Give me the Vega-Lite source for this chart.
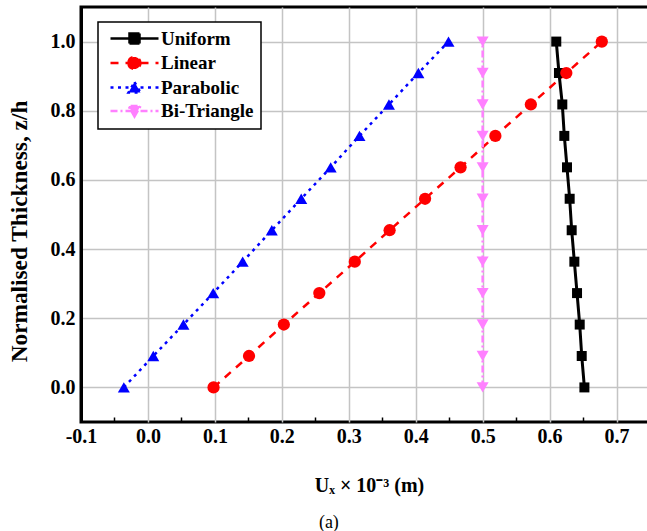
{
  "$schema": "https://vega.github.io/schema/vega-lite/v6.json",
  "width": 569,
  "height": 415,
  "autosize": "none",
  "padding": {"left": 81, "top": 7, "right": 0, "bottom": 109},
  "background": "white",
  "title": {"text": "(a)", "orient": "bottom", "anchor": "middle", "frame": "bounds", "font": "Liberation Serif", "fontSize": 18, "fontWeight": "normal", "color": "black", "offset": 19},
  "data": {"values": [
    {"series": "Uniform", "x": 0.652, "y": 0.0},
    {"series": "Uniform", "x": 0.648, "y": 0.0909},
    {"series": "Uniform", "x": 0.645, "y": 0.1818},
    {"series": "Uniform", "x": 0.641, "y": 0.2727},
    {"series": "Uniform", "x": 0.637, "y": 0.3636},
    {"series": "Uniform", "x": 0.633, "y": 0.4545},
    {"series": "Uniform", "x": 0.630, "y": 0.5455},
    {"series": "Uniform", "x": 0.626, "y": 0.6364},
    {"series": "Uniform", "x": 0.622, "y": 0.7273},
    {"series": "Uniform", "x": 0.619, "y": 0.8182},
    {"series": "Uniform", "x": 0.614, "y": 0.9091},
    {"series": "Uniform", "x": 0.610, "y": 1.0},
    {"series": "Linear", "x": 0.098, "y": 0.0},
    {"series": "Linear", "x": 0.151, "y": 0.0909},
    {"series": "Linear", "x": 0.203, "y": 0.1818},
    {"series": "Linear", "x": 0.256, "y": 0.2727},
    {"series": "Linear", "x": 0.309, "y": 0.3636},
    {"series": "Linear", "x": 0.361, "y": 0.4545},
    {"series": "Linear", "x": 0.414, "y": 0.5455},
    {"series": "Linear", "x": 0.467, "y": 0.6364},
    {"series": "Linear", "x": 0.519, "y": 0.7273},
    {"series": "Linear", "x": 0.572, "y": 0.8182},
    {"series": "Linear", "x": 0.625, "y": 0.9091},
    {"series": "Linear", "x": 0.678, "y": 1.0},
    {"series": "Parabolic", "x": -0.036, "y": 0.0},
    {"series": "Parabolic", "x": 0.008, "y": 0.0909},
    {"series": "Parabolic", "x": 0.053, "y": 0.1818},
    {"series": "Parabolic", "x": 0.0975, "y": 0.2727},
    {"series": "Parabolic", "x": 0.1415, "y": 0.3636},
    {"series": "Parabolic", "x": 0.185, "y": 0.4545},
    {"series": "Parabolic", "x": 0.229, "y": 0.5455},
    {"series": "Parabolic", "x": 0.273, "y": 0.6364},
    {"series": "Parabolic", "x": 0.316, "y": 0.7273},
    {"series": "Parabolic", "x": 0.360, "y": 0.8182},
    {"series": "Parabolic", "x": 0.404, "y": 0.9091},
    {"series": "Parabolic", "x": 0.449, "y": 1.0},
    {"series": "Bi-Triangle", "x": 0.5, "y": 0.0},
    {"series": "Bi-Triangle", "x": 0.5, "y": 0.0909},
    {"series": "Bi-Triangle", "x": 0.5, "y": 0.1818},
    {"series": "Bi-Triangle", "x": 0.5, "y": 0.2727},
    {"series": "Bi-Triangle", "x": 0.5, "y": 0.3636},
    {"series": "Bi-Triangle", "x": 0.5, "y": 0.4545},
    {"series": "Bi-Triangle", "x": 0.5, "y": 0.5455},
    {"series": "Bi-Triangle", "x": 0.5, "y": 0.6364},
    {"series": "Bi-Triangle", "x": 0.5, "y": 0.7273},
    {"series": "Bi-Triangle", "x": 0.5, "y": 0.8182},
    {"series": "Bi-Triangle", "x": 0.5, "y": 0.9091},
    {"series": "Bi-Triangle", "x": 0.5, "y": 1.0}
  ]},
  "encoding": {
    "x": {
      "field": "x", "type": "quantitative",
      "scale": {"domain": [-0.1, 0.75], "nice": false, "zero": false},
      "axis": {
        "title": "Uₓ × 10⁻³ (m)",
        "titleX": 288,
        "titleFontSize": 20,
        "values": [-0.1, -0.05, 0, 0.05, 0.1, 0.15, 0.2, 0.25, 0.3, 0.35, 0.4, 0.45, 0.5, 0.55, 0.6, 0.65, 0.7, 0.75],
        "labelExpr": "abs(round(datum.value*20)) % 2 == 0 ? replace(format(datum.value, '.1f'), '\u2212', '-') : ''",
        "gridOpacity": {"condition": {"test": "abs(round(datum.value*20)) % 2 == 0 && datum.value > -0.09", "value": 1}, "value": 0},
        "tickOpacity": {"condition": {"test": "abs(round(datum.value*20)) % 2 == 1", "value": 1}, "value": 0},
        "offset": -5,
        "domain": false,
        "tickSize": 5,
        "labelPadding": 4,
        "titlePadding": 29,
        "labelFlush": false
      }
    },
    "y": {
      "field": "y", "type": "quantitative",
      "scale": {"domain": [-0.1, 1.1], "nice": false, "zero": false},
      "axis": {
        "title": "Normalised Thickness, z/h",
        "titleFontSize": 23.3,
        "titleY": 224,
        "values": [0, 0.2, 0.4, 0.6, 0.8, 1.0],
        "format": ".1f",
        "ticks": false,
        "labelPadding": 6,
        "titlePadding": 19
      }
    }
  },
  "layer": [
    {
      "transform": [{"filter": "datum.series == 'Uniform'"}],
      "mark": {"type": "line", "strokeWidth": 3, "color": "#000000"},
      "encoding": {"order": {"field": "y", "type": "quantitative"}}
    },
    {
      "transform": [{"filter": "datum.series == 'Linear'"}],
      "mark": {"type": "line", "strokeWidth": 2.5, "color": "#ff0000", "strokeDash": [8, 7]},
      "encoding": {"order": {"field": "y", "type": "quantitative"}}
    },
    {
      "transform": [{"filter": "datum.series == 'Parabolic'"}],
      "mark": {"type": "line", "strokeWidth": 2.5, "color": "#0000ff", "strokeDash": [3, 4.5]},
      "encoding": {"order": {"field": "y", "type": "quantitative"}}
    },
    {
      "transform": [{"filter": "datum.series == 'Bi-Triangle'"}],
      "mark": {"type": "line", "strokeWidth": 2.5, "color": "#ff80ff", "strokeDash": [7, 3, 2, 3]},
      "encoding": {"order": {"field": "y", "type": "quantitative"}}
    },
    {
      "transform": [{"filter": "datum.series == 'Uniform'"}],
      "mark": {"type": "point", "filled": true, "opacity": 1, "shape": "square", "size": 100, "color": "#000000"}
    },
    {
      "transform": [{"filter": "datum.series == 'Linear'"}],
      "mark": {"type": "point", "filled": true, "opacity": 1, "shape": "circle", "size": 150, "color": "#ff0000"}
    },
    {
      "transform": [{"filter": "datum.series == 'Parabolic'"}],
      "mark": {"type": "point", "filled": true, "opacity": 1, "shape": "triangle-up", "size": 144, "color": "#0000ff"}
    },
    {
      "transform": [{"filter": "datum.series == 'Bi-Triangle'"}],
      "mark": {"type": "point", "filled": true, "opacity": 1, "shape": "triangle-down", "size": 144, "color": "#ff80ff"}
    },
    {
      "transform": [{"filter": "datum.y > 5"}],
      "mark": {"type": "point", "filled": false, "opacity": 1},
      "encoding": {
        "color": {"field": "series", "type": "nominal", "scale": {"domain": ["Uniform", "Linear", "Parabolic", "Bi-Triangle"], "range": ["#000000", "#ff0000", "#0000ff", "#ff80ff"]}, "legend": {"title": null, "orient": "none", "legendX": 17, "legendY": 15}},
        "fill": {"field": "series", "type": "nominal", "scale": {"domain": ["Uniform", "Linear", "Parabolic", "Bi-Triangle"], "range": ["#000000", "#ff0000", "#0000ff", "#ff80ff"]}, "legend": {"title": null, "orient": "none", "legendX": 17, "legendY": 15}},
        "shape": {"field": "series", "type": "nominal", "scale": {"domain": ["Uniform", "Linear", "Parabolic", "Bi-Triangle"], "range": [
          "M-4.8,0H4.8M-1,-1H1V1H-1Z",
          "M-4.8,0H4.8M-1.2,0A1.2,1.2,0,1,0,1.2,0A1.2,1.2,0,1,0,-1.2,0Z",
          "M-4.8,0H4.8M0,-1.1L1.2,1L-1.2,1Z",
          "M-4.8,0H4.8M0,1.1L1.2,-1L-1.2,-1Z"
        ]}, "legend": {"title": null, "orient": "none", "legendX": 17, "legendY": 15}},
        "strokeDash": {"field": "series", "type": "nominal", "scale": {"domain": ["Uniform", "Linear", "Parabolic", "Bi-Triangle"], "range": [[1, 0], [8, 7], [3, 4.5], [7, 3, 2, 3]]}, "legend": {"title": null, "orient": "none", "legendX": 17, "legendY": 15}}
      }
    }
  ],
  "config": {
    "view": {"stroke": "#000000", "strokeWidth": 3},
    "axis": {
      "labelFont": "Liberation Serif",
      "labelFontSize": 20,
      "labelFontWeight": "bold",
      "labelColor": "#000000",
      "titleFont": "Liberation Serif",
      "titleFontSize": 22,
      "titleFontWeight": "bold",
      "titleColor": "#000000",
      "gridColor": "#c4c4c4",
      "gridWidth": 1.5,
      "domainColor": "#000000",
      "domainWidth": 3,
      "tickColor": "#000000",
      "tickWidth": 1.5
    },
    "legend": {
      "padding": 7,
      "strokeColor": "#000000",
      "strokeWidth": 1.5,
      "fillColor": "#ffffff",
      "cornerRadius": 0,
      "labelFont": "Liberation Serif",
      "labelFontSize": 19,
      "labelFontWeight": "bold",
      "labelColor": "#000000",
      "symbolSize": 100,
      "symbolStrokeWidth": 2.5,
      "symbolOffset": 20,
      "labelOffset": 17,
      "rowPadding": 2.5
    }
  }
}
